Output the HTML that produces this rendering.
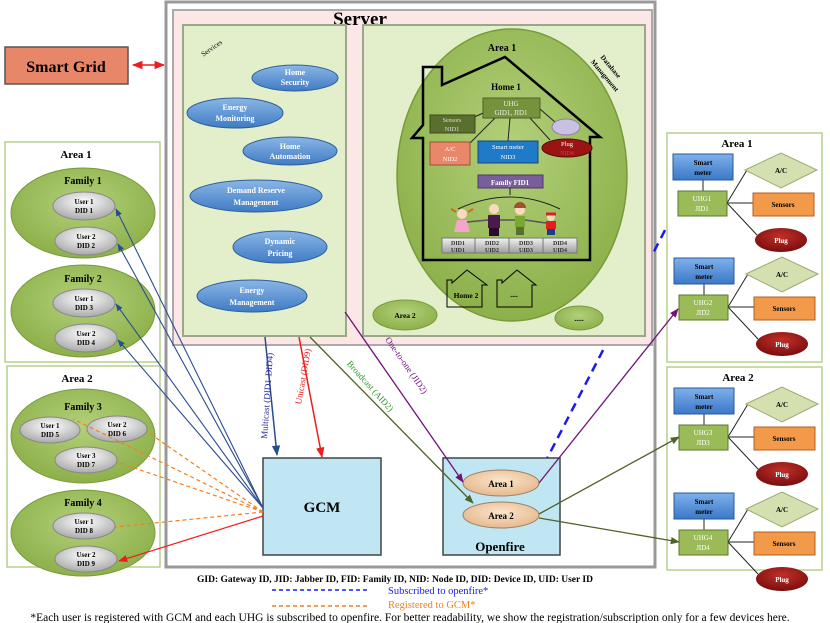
<!DOCTYPE html>
<html><head><meta charset="utf-8"><style>
html,body{margin:0;padding:0;background:#fff;}
svg{display:block;font-family:"Liberation Serif",serif;}
.b{font-weight:bold;}
</style></head><body>
<svg width="830" height="623" viewBox="0 0 830 623" xmlns="http://www.w3.org/2000/svg">
<defs>
<radialGradient id="gGreen" cx="50%" cy="40%" r="60%"><stop offset="0" stop-color="#b3d07a"/><stop offset="1" stop-color="#8cb04a"/></radialGradient>
<radialGradient id="gGrey" cx="50%" cy="35%" r="65%"><stop offset="0" stop-color="#ffffff"/><stop offset="1" stop-color="#a9a9a9"/></radialGradient>
<linearGradient id="gBlue" x1="0" y1="0" x2="0" y2="1"><stop offset="0" stop-color="#8ab6e6"/><stop offset="1" stop-color="#3f7bc4"/></linearGradient>
<radialGradient id="gTan" cx="50%" cy="40%" r="60%"><stop offset="0" stop-color="#fde5cc"/><stop offset="1" stop-color="#e3b98e"/></radialGradient>
<radialGradient id="gRed" cx="50%" cy="35%" r="65%"><stop offset="0" stop-color="#c0302a"/><stop offset="1" stop-color="#7a0d0d"/></radialGradient>
<linearGradient id="gSm" x1="0" y1="0" x2="0" y2="1"><stop offset="0" stop-color="#7fb0ea"/><stop offset="1" stop-color="#3a78c8"/></linearGradient>
<linearGradient id="gBtn" x1="0" y1="0" x2="0" y2="1"><stop offset="0" stop-color="#f2f2f2"/><stop offset="1" stop-color="#9e9e9e"/></linearGradient>
<marker id="aB" viewBox="0 0 10 10" refX="9" refY="5" markerWidth="7" markerHeight="7" orient="auto"><path d="M0,1 L10,5 L0,9 z" fill="#2a4d8f"/></marker>
<marker id="aR" viewBox="0 0 10 10" refX="9" refY="5" markerWidth="7" markerHeight="7" orient="auto"><path d="M0,1 L10,5 L0,9 z" fill="#ee1c1c"/></marker>
<marker id="aR2" viewBox="0 0 10 10" refX="1" refY="5" markerWidth="7" markerHeight="7" orient="auto"><path d="M10,1 L0,5 L10,9 z" fill="#ee1c1c"/></marker>
<marker id="aG" viewBox="0 0 10 10" refX="9" refY="5" markerWidth="7" markerHeight="7" orient="auto"><path d="M0,1 L10,5 L0,9 z" fill="#4f6228"/></marker>
<marker id="aP" viewBox="0 0 10 10" refX="9" refY="5" markerWidth="7" markerHeight="7" orient="auto"><path d="M0,1 L10,5 L0,9 z" fill="#70127a"/></marker>
</defs>

<rect x="5" y="47" width="123" height="37" fill="#e8866a" stroke="#555" stroke-width="1.5"/>
<text x="66" y="72" font-size="16" class="b" text-anchor="middle">Smart Grid</text>
<line x1="133" y1="65" x2="164" y2="65" stroke="#ee1c1c" stroke-width="1.5" marker-start="url(#aR2)" marker-end="url(#aR)"/>

<rect x="166" y="2" width="489" height="565" fill="#fff" stroke="#999" stroke-width="3"/>
<line x1="537" y1="478" x2="678" y2="205" stroke="#1a1aee" stroke-width="2.5" stroke-dasharray="9,6"/>

<rect x="173" y="10" width="479" height="335" fill="#fde6e6" stroke="#aaa" stroke-width="2"/>
<text x="360" y="25" font-size="19" class="b" text-anchor="middle">Server</text>

<rect x="183" y="25" width="163" height="311" fill="#e3efcb" stroke="#9aa88a" stroke-width="2"/>
<text x="213" y="50" font-size="7" transform="rotate(-35 213 50)" text-anchor="middle">Services</text>
<g font-size="8" class="b" fill="#fff" text-anchor="middle">
<ellipse cx="295" cy="78" rx="43" ry="13" fill="url(#gBlue)" stroke="#2d5f9a"/><text x="295" y="75">Home</text><text x="295" y="85">Security</text>
<ellipse cx="235" cy="113" rx="48" ry="15" fill="url(#gBlue)" stroke="#2d5f9a"/><text x="235" y="110">Energy</text><text x="235" y="121">Monitoring</text>
<ellipse cx="290" cy="151" rx="47" ry="14" fill="url(#gBlue)" stroke="#2d5f9a"/><text x="290" y="149">Home</text><text x="290" y="159">Automation</text>
<ellipse cx="256" cy="196" rx="66" ry="16" fill="url(#gBlue)" stroke="#2d5f9a"/><text x="256" y="193">Demand Reserve</text><text x="256" y="205">Management</text>
<ellipse cx="280" cy="247" rx="47" ry="16" fill="url(#gBlue)" stroke="#2d5f9a"/><text x="280" y="244">Dynamic</text><text x="280" y="256">Pricing</text>
<ellipse cx="252" cy="296" rx="55" ry="16" fill="url(#gBlue)" stroke="#2d5f9a"/><text x="252" y="293">Energy</text><text x="252" y="305">Management</text>
</g>

<rect x="363" y="25" width="282" height="311" fill="#e3efcb" stroke="#9aa88a" stroke-width="2"/>
<ellipse cx="512" cy="175" rx="115" ry="146" fill="url(#gGreen)" stroke="#7a9a3a" stroke-width="1.5"/>
<text x="609" y="68" font-size="7" class="b" transform="rotate(50 609 68)" text-anchor="middle">Database</text>
<text x="603" y="77" font-size="7" class="b" transform="rotate(50 603 77)" text-anchor="middle">Management</text>
<text x="502" y="51" font-size="10" class="b" text-anchor="middle">Area 1</text>
<polygon points="423,67 442,67 442,85 505,57 600,137 590,137 590,260 423,260 423,138 412,138 423,125" fill="none" stroke="#000" stroke-width="2.5"/>
<text x="506" y="90" font-size="9" class="b" text-anchor="middle">Home 1</text>
<g stroke="#222" stroke-width="1">
<line x1="490" y1="110" x2="472" y2="118"/><line x1="495" y1="118" x2="470" y2="143"/><line x1="510" y1="118" x2="508" y2="141"/><line x1="530" y1="118" x2="550" y2="140"/><line x1="540" y1="109" x2="555" y2="122"/>
</g>
<rect x="483" y="98" width="57" height="20" fill="#76923c" stroke="#4f6228"/>
<text x="511" y="106" font-size="7" fill="#eee" text-anchor="middle">UHG</text><text x="511" y="115" font-size="7" fill="#eee" text-anchor="middle">GID1, JID1</text>
<rect x="430" y="115" width="45" height="18" fill="#5a6e2e" stroke="#3d4a20"/>
<text x="452" y="122" font-size="6" fill="#ddd" text-anchor="middle">Sensors</text><text x="452" y="131" font-size="6.5" fill="#ddd" text-anchor="middle">NID1</text>
<ellipse cx="566" cy="127" rx="14" ry="8" fill="#c9c0e3" stroke="#8a80b0"/>
<rect x="430" y="142" width="40" height="23" fill="#e8876a" stroke="#a05030"/>
<text x="450" y="151" font-size="6.5" fill="#fff" text-anchor="middle">A/C</text><text x="450" y="161" font-size="6.5" fill="#fff" text-anchor="middle">NID2</text>
<rect x="478" y="141" width="60" height="22" fill="#1f7bc8" stroke="#124a80"/>
<text x="508" y="149" font-size="6.5" fill="#fff" text-anchor="middle">Smart meter</text><text x="508" y="159" font-size="6.5" fill="#fff" text-anchor="middle">NID3</text>
<ellipse cx="567" cy="148" rx="25" ry="9" fill="#9b1414" stroke="#5a0a0a"/>
<text x="567" y="146" font-size="6.5" fill="#fff" text-anchor="middle">Plug</text><text x="567" y="155" font-size="6" fill="#d33" text-anchor="middle">NID4</text>
<rect x="478" y="175" width="65" height="13" fill="#7a5e9c" stroke="#4a3a66"/>
<text x="510" y="185" font-size="7" class="b" fill="#fff" text-anchor="middle">Family FID1</text>
<path d="M510,188 L510,195 M458,209 Q510,185 560,209" fill="none" stroke="#222"/>
<g>
<circle cx="462" cy="214" r="5" fill="#fbd9c0"/><path d="M456,212 l-5,-3 M468,212 l5,-3" stroke="#d2691e" stroke-width="2"/><path d="M457,220 L467,220 L470,232 L454,232 z" fill="#f4a6c8"/>
<circle cx="494" cy="209" r="5" fill="#fbd9c0"/><rect x="488" y="215" width="12" height="13" fill="#4a1a4a"/><rect x="489" y="228" width="10" height="8" fill="#2a0a2a"/>
<circle cx="520" cy="210" r="5" fill="#fbd9c0"/><path d="M514,208 a6,6 0 0 1 12,0" fill="#a0522d"/><rect x="515" y="216" width="10" height="11" fill="#76a832"/><rect x="516" y="227" width="8" height="8" fill="#5a6e2e"/>
<circle cx="551" cy="217" r="4" fill="#fbd9c0"/><path d="M546,214 h10" stroke="#e02020" stroke-width="3"/><rect x="546" y="221" width="10" height="8" fill="#e02020"/><rect x="547" y="229" width="8" height="6" fill="#1f3c88"/>
<path d="M467,222 L488,220 M500,220 L515,220 M525,220 L546,223" stroke="#555" stroke-width="1.5"/>
</g>
<g font-size="6" class="b" text-anchor="middle" fill="#333">
<rect x="442" y="238" width="33" height="15" fill="url(#gBtn)" stroke="#777"/><text x="458" y="245">DID1</text><text x="458" y="252">UID1</text>
<rect x="475" y="238" width="34" height="15" fill="url(#gBtn)" stroke="#777"/><text x="492" y="245">DID2</text><text x="492" y="252">UID2</text>
<rect x="509" y="238" width="34" height="15" fill="url(#gBtn)" stroke="#777"/><text x="526" y="245">DID3</text><text x="526" y="252">UID3</text>
<rect x="543" y="238" width="34" height="15" fill="url(#gBtn)" stroke="#777"/><text x="560" y="245">DID4</text><text x="560" y="252">UID4</text>
</g>
<polygon points="447,307 447,280 452,280 452,283 467,270 487,285 482,285 482,307" fill="none" stroke="#000"/>
<text x="466" y="298" font-size="7.5" class="b" text-anchor="middle">Home 2</text>
<polygon points="497,307 497,280 502,280 502,283 517,270 536,285 532,285 532,307" fill="none" stroke="#000"/>
<text x="514" y="297" font-size="7.5" class="b" text-anchor="middle">....</text>
<ellipse cx="405" cy="315" rx="32" ry="15" fill="url(#gGreen)" stroke="#7a9a3a"/>
<text x="405" y="318" font-size="7.5" class="b" text-anchor="middle">Area 2</text>
<ellipse cx="579" cy="318" rx="24" ry="12" fill="url(#gGreen)" stroke="#7a9a3a"/>
<text x="579" y="321" font-size="7.5" class="b" text-anchor="middle">.....</text>

<rect x="5" y="142" width="155" height="220" fill="#fff" stroke="#b6cf8c" stroke-width="1.5"/>
<text x="76" y="158" font-size="11" class="b" text-anchor="middle">Area 1</text>
<rect x="7" y="366" width="153" height="201" fill="#fff" stroke="#b6cf8c" stroke-width="1.5"/>
<text x="77" y="382" font-size="11" class="b" text-anchor="middle">Area 2</text>
<g font-size="7" class="b" text-anchor="middle">
<ellipse cx="83" cy="213" rx="72" ry="45" fill="url(#gGreen)" stroke="#7a9a3a"/>
<text x="83" y="184" font-size="10">Family 1</text>
<ellipse cx="84" cy="206" rx="31" ry="14" fill="url(#gGrey)" stroke="#888"/><text x="84" y="204">User 1</text><text x="84" y="213">DID 1</text>
<ellipse cx="86" cy="241" rx="31" ry="14" fill="url(#gGrey)" stroke="#888"/><text x="86" y="239">User 2</text><text x="86" y="248">DID 2</text>
<ellipse cx="83" cy="311" rx="72" ry="46" fill="url(#gGreen)" stroke="#7a9a3a"/>
<text x="83" y="282" font-size="10">Family 2</text>
<ellipse cx="84" cy="303" rx="31" ry="14" fill="url(#gGrey)" stroke="#888"/><text x="84" y="301">User 1</text><text x="84" y="310">DID 3</text>
<ellipse cx="86" cy="338" rx="31" ry="14" fill="url(#gGrey)" stroke="#888"/><text x="86" y="336">User 2</text><text x="86" y="345">DID 4</text>
<ellipse cx="83" cy="436" rx="72" ry="47" fill="url(#gGreen)" stroke="#7a9a3a"/>
<text x="83" y="410" font-size="10">Family 3</text>
<ellipse cx="50" cy="430" rx="30" ry="13" fill="url(#gGrey)" stroke="#888"/><text x="50" y="428">User 1</text><text x="50" y="437">DID 5</text>
<ellipse cx="117" cy="429" rx="30" ry="13" fill="url(#gGrey)" stroke="#888"/><text x="117" y="427">User 2</text><text x="117" y="436">DID 6</text>
<ellipse cx="86" cy="460" rx="31" ry="13" fill="url(#gGrey)" stroke="#888"/><text x="86" y="458">User 3</text><text x="86" y="467">DID 7</text>
<ellipse cx="83" cy="533" rx="72" ry="43" fill="url(#gGreen)" stroke="#7a9a3a"/>
<text x="83" y="506" font-size="10">Family 4</text>
<ellipse cx="84" cy="526" rx="31" ry="13" fill="url(#gGrey)" stroke="#888"/><text x="84" y="524">User 1</text><text x="84" y="533">DID 8</text>
<ellipse cx="86" cy="559" rx="31" ry="13" fill="url(#gGrey)" stroke="#888"/><text x="86" y="557">User 2</text><text x="86" y="566">DID 9</text>
</g>

<rect x="667" y="133" width="155" height="229" fill="#fff" stroke="#b6cf8c" stroke-width="1.5"/>
<text x="737" y="147" font-size="11" class="b" text-anchor="middle">Area 1</text>
<rect x="667" y="367" width="155" height="203" fill="#fff" stroke="#b6cf8c" stroke-width="1.5"/>
<text x="738" y="381" font-size="11" class="b" text-anchor="middle">Area 2</text>
<g font-size="7" class="b" text-anchor="middle">
<g>
<path d="M703,180 V191 M727,203 L747,170 M727,203 H753 M727,203 L757,235" stroke="#222" fill="none"/>
<rect x="673" y="154" width="60" height="26" fill="url(#gSm)" stroke="#2a5a9a"/><text x="703" y="165">Smart</text><text x="703" y="175">meter</text>
<rect x="678" y="191" width="49" height="25" fill="#9bbb59" stroke="#5a7a2a"/><text x="702" y="201" fill="#fff" font-weight="normal">UHG1</text><text x="702" y="211" fill="#fff" font-weight="normal">JID1</text>
<polygon points="745,170 781,153 817,170 781,188" fill="#d4e0b0" stroke="#9aaa70"/><text x="781" y="173">A/C</text>
<rect x="753" y="193" width="61" height="23" fill="#f39a4a" stroke="#b06020"/><text x="783" y="207">Sensors</text>
<ellipse cx="781" cy="240" rx="26" ry="12" fill="url(#gRed)"/><text x="781" y="243" fill="#fff">Plug</text>
</g>
<g transform="translate(1,104)">
<path d="M703,180 V191 M727,203 L747,170 M727,203 H753 M727,203 L757,235" stroke="#222" fill="none"/>
<rect x="673" y="154" width="60" height="26" fill="url(#gSm)" stroke="#2a5a9a"/><text x="703" y="165">Smart</text><text x="703" y="175">meter</text>
<rect x="678" y="191" width="49" height="25" fill="#9bbb59" stroke="#5a7a2a"/><text x="702" y="201" fill="#fff" font-weight="normal">UHG2</text><text x="702" y="211" fill="#fff" font-weight="normal">JID2</text>
<polygon points="745,170 781,153 817,170 781,188" fill="#d4e0b0" stroke="#9aaa70"/><text x="781" y="173">A/C</text>
<rect x="753" y="193" width="61" height="23" fill="#f39a4a" stroke="#b06020"/><text x="783" y="207">Sensors</text>
<ellipse cx="781" cy="240" rx="26" ry="12" fill="url(#gRed)"/><text x="781" y="243" fill="#fff">Plug</text>
</g>
<g transform="translate(1,234)">
<path d="M703,180 V191 M727,203 L747,170 M727,203 H753 M727,203 L757,235" stroke="#222" fill="none"/>
<rect x="673" y="154" width="60" height="26" fill="url(#gSm)" stroke="#2a5a9a"/><text x="703" y="165">Smart</text><text x="703" y="175">meter</text>
<rect x="678" y="191" width="49" height="25" fill="#9bbb59" stroke="#5a7a2a"/><text x="702" y="201" fill="#fff" font-weight="normal">UHG3</text><text x="702" y="211" fill="#fff" font-weight="normal">JID3</text>
<polygon points="745,170 781,153 817,170 781,188" fill="#d4e0b0" stroke="#9aaa70"/><text x="781" y="173">A/C</text>
<rect x="753" y="193" width="61" height="23" fill="#f39a4a" stroke="#b06020"/><text x="783" y="207">Sensors</text>
<ellipse cx="781" cy="240" rx="26" ry="12" fill="url(#gRed)"/><text x="781" y="243" fill="#fff">Plug</text>
</g>
<g transform="translate(1,339)">
<path d="M703,180 V191 M727,203 L747,170 M727,203 H753 M727,203 L757,235" stroke="#222" fill="none"/>
<rect x="673" y="154" width="60" height="26" fill="url(#gSm)" stroke="#2a5a9a"/><text x="703" y="165">Smart</text><text x="703" y="175">meter</text>
<rect x="678" y="191" width="49" height="25" fill="#9bbb59" stroke="#5a7a2a"/><text x="702" y="201" fill="#fff" font-weight="normal">UHG4</text><text x="702" y="211" fill="#fff" font-weight="normal">JID4</text>
<polygon points="745,170 781,153 817,170 781,188" fill="#d4e0b0" stroke="#9aaa70"/><text x="781" y="173">A/C</text>
<rect x="753" y="193" width="61" height="23" fill="#f39a4a" stroke="#b06020"/><text x="783" y="207">Sensors</text>
<ellipse cx="781" cy="240" rx="26" ry="12" fill="url(#gRed)"/><text x="781" y="243" fill="#fff">Plug</text>
</g>
</g>

<rect x="263" y="458" width="118" height="97" fill="#bfe6f2" stroke="#444" stroke-width="1.5"/>
<text x="322" y="512" font-size="15" class="b" text-anchor="middle">GCM</text>
<rect x="443" y="458" width="117" height="97" fill="#bfe6f2" stroke="#444" stroke-width="1.5"/>
<text x="500" y="551" font-size="13" class="b" text-anchor="middle">Openfire</text>
<ellipse cx="501" cy="483" rx="38" ry="13" fill="url(#gTan)" stroke="#a08060"/>
<text x="501" y="487" font-size="9" class="b" text-anchor="middle">Area 1</text>
<ellipse cx="501" cy="515" rx="38" ry="13" fill="url(#gTan)" stroke="#a08060"/>
<text x="501" y="519" font-size="9" class="b" text-anchor="middle">Area 2</text>

<g stroke="#2a4d8f" stroke-width="1.1" fill="none">
<line x1="263" y1="508" x2="116" y2="209" marker-end="url(#aB)"/>
<line x1="263" y1="508" x2="118" y2="244" marker-end="url(#aB)"/>
<line x1="263" y1="508" x2="116" y2="304" marker-end="url(#aB)"/>
<line x1="263" y1="508" x2="118" y2="340" marker-end="url(#aB)"/>
<line x1="265" y1="337" x2="277" y2="455" stroke-width="1.5" marker-end="url(#aB)"/>
</g>
<g stroke="#f07f22" stroke-width="1.2" stroke-dasharray="4,3" fill="none">
<line x1="263" y1="512" x2="73" y2="419"/>
<line x1="263" y1="512" x2="146" y2="431"/>
<line x1="263" y1="512" x2="117" y2="462"/>
<line x1="263" y1="512" x2="115" y2="527"/>
</g>
<line x1="263" y1="516" x2="119" y2="561" stroke="#ee1c1c" stroke-width="1.3" marker-end="url(#aR)"/>
<line x1="299" y1="337" x2="322" y2="457" stroke="#ee1c1c" stroke-width="1.5" marker-end="url(#aR)"/>
<line x1="310" y1="337" x2="473" y2="503" stroke="#4f6228" stroke-width="1.3" marker-end="url(#aG)"/>
<line x1="345" y1="312" x2="463" y2="482" stroke="#70127a" stroke-width="1.3" marker-end="url(#aP)"/>
<line x1="539" y1="483" x2="678" y2="309" stroke="#70127a" stroke-width="1.3" marker-end="url(#aP)"/>
<line x1="539" y1="514" x2="679" y2="437" stroke="#4f6228" stroke-width="1.3" marker-end="url(#aG)"/>
<line x1="539" y1="518" x2="679" y2="542" stroke="#4f6228" stroke-width="1.3" marker-end="url(#aG)"/>

<text x="270" y="396" font-size="9" fill="#2a2a9a" transform="rotate(-86 270 396)" text-anchor="middle">Multicast (DID1-DID4)</text>
<text x="306" y="377" font-size="9" fill="#ee1c1c" transform="rotate(-80 306 377)" text-anchor="middle">Unicast (DID9)</text>
<text x="368" y="388" font-size="9" fill="#2e9a2e" transform="rotate(48 368 388)" text-anchor="middle">Broadcast (AID2)</text>
<text x="404" y="367" font-size="9" fill="#70127a" transform="rotate(55 404 367)" text-anchor="middle">One-to-one (JID2)</text>

<text x="395" y="582" font-size="9.5" class="b" text-anchor="middle">GID: Gateway ID, JID: Jabber ID, FID: Family ID, NID: Node ID, DID: Device ID, UID: User ID</text>
<line x1="272" y1="590" x2="370" y2="590" stroke="#1a1aee" stroke-width="1.5" stroke-dasharray="4,3"/>
<text x="388" y="594" font-size="10.5" fill="#1a1aee">Subscribed to openfire*</text>
<line x1="272" y1="606" x2="370" y2="606" stroke="#f07f22" stroke-width="1.5" stroke-dasharray="4,3"/>
<text x="388" y="608" font-size="10.5" fill="#f07f22">Registered to GCM*</text>
<text x="410" y="621" font-size="11.5" text-anchor="middle">*Each user is registered with GCM and each UHG is subscribed to openfire. For better readability, we show the registration/subscription only for a few devices here.</text>
</svg>
</body></html>
